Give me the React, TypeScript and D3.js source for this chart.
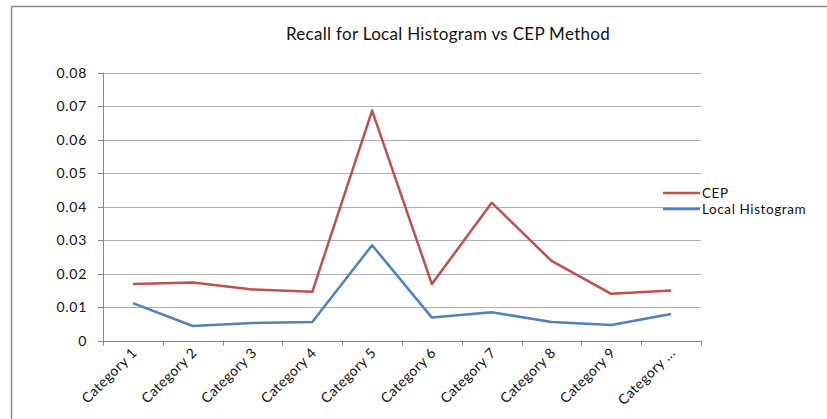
import React from "react";
import * as d3 from "d3";

const categories = ["Category 1", "Category 2", "Category 3", "Category 4", "Category 5", "Category 6", "Category 7", "Category 8", "Category 9", "Category ..."];
const cepValues = [0.0169, 0.0174, 0.0153, 0.0146, 0.0687, 0.0169, 0.0412, 0.0238, 0.014, 0.015];
const localValues = [0.0112, 0.0044, 0.0053, 0.0056, 0.0285, 0.0069, 0.0085, 0.0056, 0.0047, 0.008];
const yTicks = [0, 0.01, 0.02, 0.03, 0.04, 0.05, 0.06, 0.07, 0.08];
const seriesNames = ["CEP", "Local Histogram"];
const seriesColors = ["#C0504D", "#4F81BD"];
const titleText = "Recall for Local Histogram vs CEP Method";

const W = 827, H = 419;
const left = 103, right = 701, top = 72.7, bottom = 340.7;
const font = "Lato, 'Open Sans', sans-serif";

export default function App() {
  const x = d3.scaleBand<string>().domain(categories).range([left, right]);
  const y = d3.scaleLinear().domain([0, 0.08]).range([bottom, top]);
  const line = d3.line<number>()
    .x((_, i) => (x(categories[i]) as number) + x.bandwidth() / 2)
    .y((d) => y(d));
  const series = [cepValues, localValues];
  const tickXs = categories.map((c) => x(c) as number).concat([right]);

  return (
    <svg width={W} height={H} style={{ position: "absolute", left: 0, top: 0, background: "#fff" }}>
      <line x1={11.5} x2={W} y1={6.5} y2={6.5} stroke="#8a8a8a" strokeWidth={1.5} />
      <line x1={11.5} x2={11.5} y1={6.5} y2={H} stroke="#8a8a8a" strokeWidth={1.5} />
      <text x={448} y={40} textAnchor="middle" fontFamily={font} fontSize={17} letterSpacing={0.3} fill="#111">{titleText}</text>
      {yTicks.map((t) => (
        <g key={t}>
          {t > 0 && <line x1={left} x2={right} y1={Math.round(y(t)) + 0.5} y2={Math.round(y(t)) + 0.5} stroke="#b0b0b0" strokeWidth={1} />}
          <line x1={left - 5} x2={left} y1={Math.round(y(t)) + 0.5} y2={Math.round(y(t)) + 0.5} stroke="#888" />
          <text x={87} y={y(t) + 5} textAnchor="end" fontFamily={font} fontSize={14} letterSpacing={0.7} fill="#111">{t === 0 ? "0" : t.toFixed(2)}</text>
        </g>
      ))}
      <line x1={left + 0.5} x2={left + 0.5} y1={top} y2={bottom} stroke="#888" />
      <line x1={left} x2={right} y1={Math.round(bottom) + 0.5} y2={Math.round(bottom) + 0.5} stroke="#888" />
      {tickXs.map((tx, i) => (
        <line key={i} x1={Math.round(tx) + 0.5} x2={Math.round(tx) + 0.5} y1={bottom} y2={bottom + 5} stroke="#888" />
      ))}
      {categories.map((c) => {
        const cx = (x(c) as number) + x.bandwidth() / 2 + 5;
        const cy = bottom + 13;
        return (
          <text key={c} x={cx} y={cy} transform={`rotate(-45 ${cx} ${cy})`} textAnchor="end" fontFamily={font} fontSize={14} letterSpacing={0.4} fill="#111">{c}</text>
        );
      })}
      {series.map((s, i) => (
        <path key={i} d={line(s) as string} fill="none" stroke={seriesColors[i]} strokeWidth={2.5} strokeLinejoin="round" />
      ))}
      {seriesNames.map((n, i) => (
        <g key={n}>
          <line x1={663} x2={700} y1={193 + i * 16} y2={193 + i * 16} stroke={seriesColors[i]} strokeWidth={2.5} />
          <text x={702} y={193 + i * 16 + 4.5} fontFamily={font} fontSize={13.5} letterSpacing={0.6} fill="#111">{n}</text>
        </g>
      ))}
    </svg>
  );
}
